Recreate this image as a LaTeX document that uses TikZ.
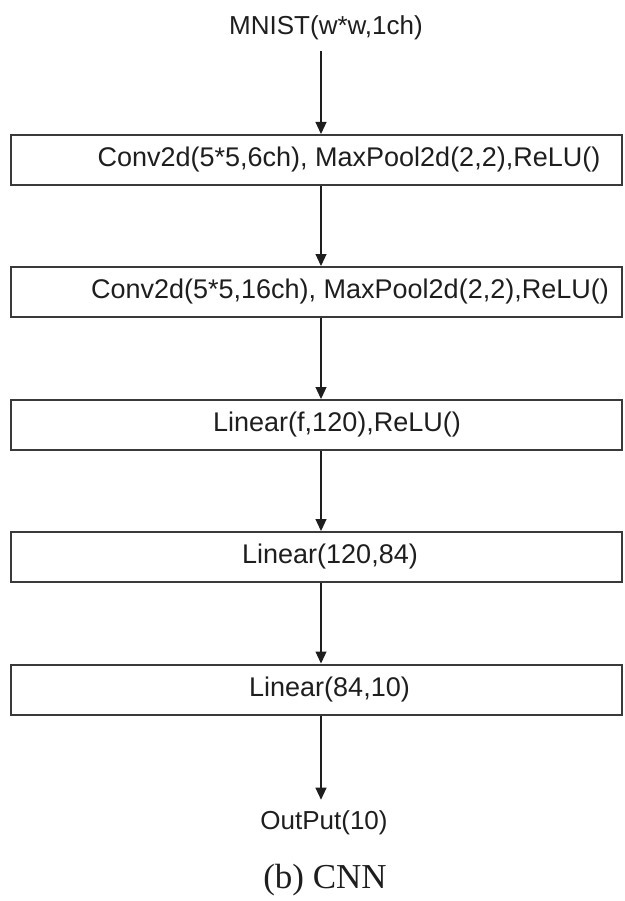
\documentclass[tikz,border=0pt]{standalone}
\usepackage{fontspec}
\setmainfont{Liberation Serif}
\setsansfont{Liberation Sans}
\usetikzlibrary{arrows.meta}
\definecolor{ink}{HTML}{1E1E1E}
\definecolor{edge}{HTML}{3A3A3A}
\begin{document}
\begin{tikzpicture}[x=1pt,y=1pt,
  layerbox/.style={draw=edge, line width=2pt, minimum width=611pt, minimum height=50pt, inner sep=0pt},
  lbl/.style={font=\sffamily\fontsize{27}{30}\selectfont, text=ink, inner sep=0pt},
  term/.style={font=\sffamily\fontsize{26}{30}\selectfont, text=ink, inner xsep=0pt, inner ysep=11pt},
  arr/.style={draw=ink, line width=1.2pt, -{Triangle[length=12pt,width=11pt]}}]
\useasboundingbox (0,0) rectangle (624,-901);
\coordinate (ax) at (321,0);
% input and output labels
\node[term] (mnist) at (326,-28) {MNIST(w*w,1ch)};
\node[term] (out) at (324,-823) {OutPut(10)};
% layer boxes
\node[layerbox] (b1) at (316.5,-160) {};
\node[layerbox] (b2) at (316.5,-292) {};
\node[layerbox] (b3) at (316.5,-425) {};
\node[layerbox] (b4) at (316.5,-557) {};
\node[layerbox] (b5) at (316.5,-689.5) {};
% layer texts
\node[lbl] (t1) at (349,-160) {Conv2d(5*5,6ch), MaxPool2d(2,2),ReLU()};
\node[lbl] (t2) at (350,-292) {Conv2d(5*5,16ch), MaxPool2d(2,2),ReLU()};
\node[lbl] (t3) at (337,-425) {Linear(f,120),ReLU()};
\node[lbl] (t4) at (330,-557) {Linear(120,84)};
\node[lbl] (t5) at (329.5,-689.5) {Linear(84,10)};
% connectors
\draw[arr] (mnist.south -| ax) -- (b1.north -| ax);
\draw[arr] (b1.south -| ax) -- (b2.north -| ax);
\draw[arr] (b2.south -| ax) -- (b3.north -| ax);
\draw[arr] (b3.south -| ax) -- (b4.north -| ax);
\draw[arr] (b4.south -| ax) -- (b5.north -| ax);
\draw[arr] (b5.south -| ax) -- (out.north -| ax);
% caption
\node[font=\fontsize{35}{40}\selectfont, text=ink] (cap) at (325,-880) {(b) CNN};
\end{tikzpicture}
\end{document}
